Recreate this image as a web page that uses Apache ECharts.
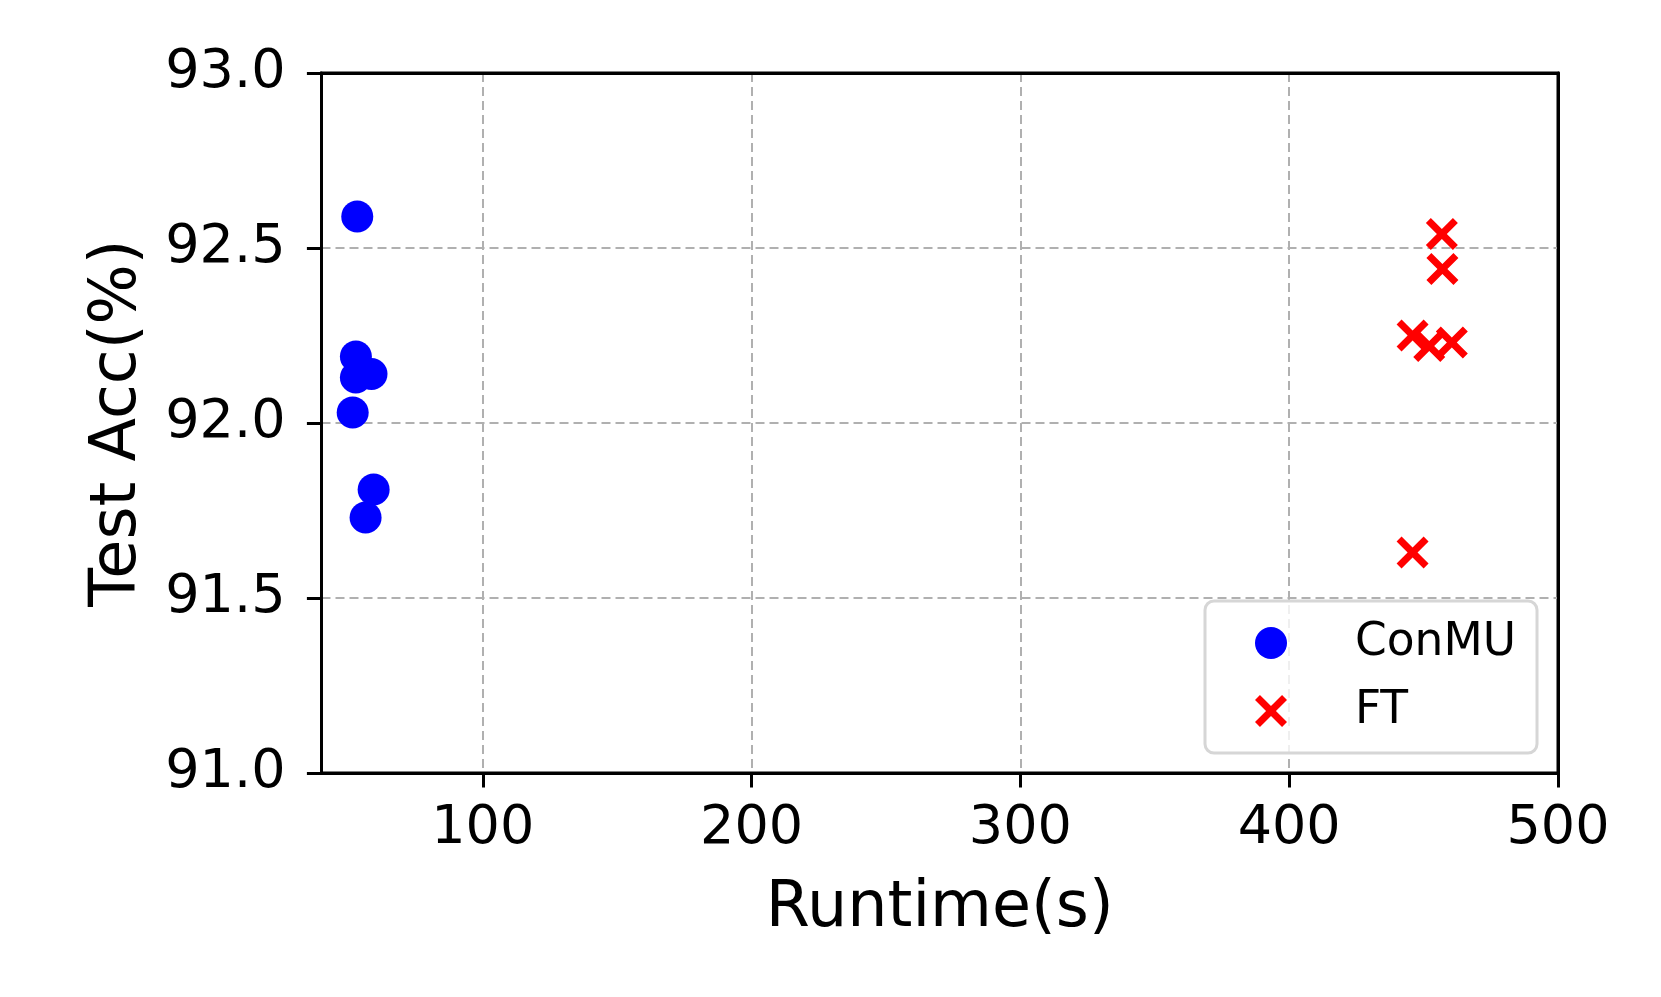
<!DOCTYPE html>
<html>
<head>
<meta charset="utf-8">
<script src="https://cdn.jsdelivr.net/npm/echarts@6/dist/echarts.min.js"></script>
<style>
html,body{margin:0;padding:0;background:#fff;}
#chart{width:1661px;height:997px;}
</style>
</head>
<body>
<div id="chart"></div>
<script>
const conmuRuntime = [53.3, 52.8, 58.6, 52.8, 51.6, 59.4, 56.4];
const conmuAcc = [92.59, 92.19, 92.14, 92.13, 92.03, 91.81, 91.73];
const ftRuntime = [456.8, 457.0, 445.9, 452.1, 460.5, 445.9];
const ftAcc = [92.54, 92.44, 92.25, 92.22, 92.23, 91.63];
const xTicks = [100, 200, 300, 400, 500];
const seriesNames = ['ConMU', 'FT'];

const FONT = 'DejaVu Sans';
const crossPath = 'path://M0,15.5 L15.5,0 L50,34.5 L84.5,0 L100,15.5 L65.5,50 L100,84.5 L84.5,100 L50,65.5 L15.5,100 L0,84.5 L34.5,50 Z';
const gridStyle = {color: '#b0b0b0', width: 2, type: [9, 5]};

const chart = echarts.init(document.getElementById('chart'), null, {renderer: 'canvas'});
const option = {
  animation: false,
  backgroundColor: '#ffffff',
  grid: {
    left: 321.5, right: 103, top: 73, bottom: 224,
    show: true, borderColor: '#000', borderWidth: 3, backgroundColor: 'transparent'
  },
  xAxis: [{
    type: 'value', min: 40, max: 500,
    name: 'Runtime(s)', nameLocation: 'middle', nameGap: 104,
    nameTextStyle: {fontFamily: FONT, fontSize: 63.5, color: '#000'},
    axisLine: {show: true, lineStyle: {color: '#000', width: 3}},
    axisTick: {show: true, inside: false, length: 14.6, customValues: xTicks, lineStyle: {color: '#000', width: 3}},
    axisLabel: {customValues: xTicks, margin: 29, fontFamily: FONT, fontSize: 54, color: '#000'},
    splitLine: {show: true, showMinLine: true, showMaxLine: false, lineStyle: gridStyle}
  }, {
    type: 'value', min: 40, max: 500, position: 'top',
    axisLine: {show: true, onZero: false, lineStyle: {color: '#000', width: 3}},
    axisTick: {show: false}, axisLabel: {show: false}, splitLine: {show: false}
  }],
  yAxis: [{
    type: 'value', min: 91, max: 93, interval: 0.5,
    name: 'Test Acc(%)', nameLocation: 'middle', nameGap: 171, nameRotate: 90,
    nameTextStyle: {fontFamily: FONT, fontSize: 63.5, color: '#000'},
    axisLine: {show: true, lineStyle: {color: '#000', width: 3}},
    axisTick: {show: true, inside: false, length: 14.6, lineStyle: {color: '#000', width: 3}},
    axisLabel: {margin: 36, fontFamily: FONT, fontSize: 54, color: '#000', formatter: v => v.toFixed(1)},
    splitLine: {show: true, showMinLine: false, showMaxLine: false, lineStyle: gridStyle}
  }, {
    type: 'value', min: 91, max: 93, interval: 0.5, position: 'right',
    axisLine: {show: true, onZero: false, lineStyle: {color: '#000', width: 3}},
    axisTick: {show: false}, axisLabel: {show: false}, splitLine: {show: false}
  }],
  legend: {
    left: 1205, top: 601,
    orient: 'vertical',
    data: [
      {name: seriesNames[0], icon: 'circle'},
      {name: seriesNames[1], icon: crossPath}
    ],
    itemWidth: 32, itemHeight: 32, itemGap: 22,
    padding: [19, 21, 19, 50],
    borderColor: '#d6d6d6', borderWidth: 3, borderRadius: 9,
    backgroundColor: 'rgba(255,255,255,0.8)',
    textStyle: {fontFamily: FONT, fontSize: 45.5, color: '#000', padding: [0, 0, 0, 63]}
  },
  series: [
    {
      name: seriesNames[0], type: 'scatter', symbol: 'circle', symbolSize: 32,
      itemStyle: {color: '#0000ff', opacity: 1},
      data: conmuRuntime.map((x, i) => [x, conmuAcc[i]]),
      z: 3
    },
    {
      name: seriesNames[1], type: 'scatter', symbol: crossPath, symbolSize: 32,
      itemStyle: {color: '#ff0000', opacity: 1},
      data: ftRuntime.map((x, i) => [x, ftAcc[i]]),
      z: 3
    }
  ]
};
chart.setOption(option);
</script>
</body>
</html>
